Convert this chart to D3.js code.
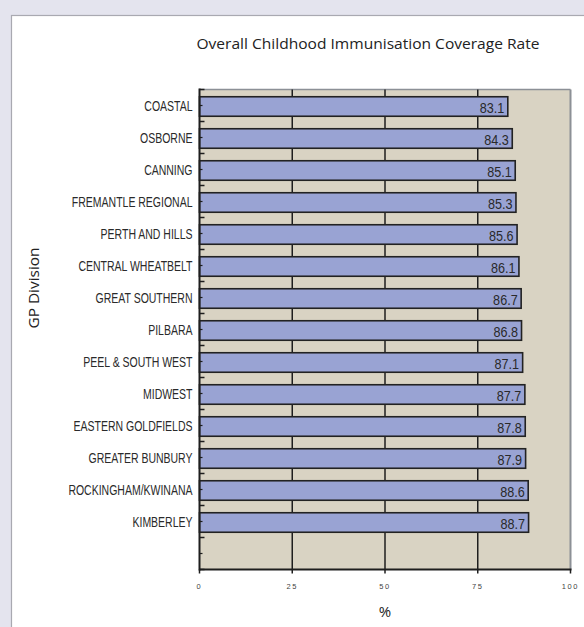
<!DOCTYPE html>
<html><head><meta charset="utf-8">
<script src="https://cdn.jsdelivr.net/npm/d3@7"></script>
<style>
html,body{margin:0;padding:0;background:#e4e4ee;}
svg{display:block;}
</style></head>
<body>
<svg id="chart" width="584" height="627"></svg>
<script>
const categories = ["COASTAL","OSBORNE","CANNING","FREMANTLE REGIONAL","PERTH AND HILLS","CENTRAL WHEATBELT","GREAT SOUTHERN","PILBARA","PEEL & SOUTH WEST","MIDWEST","EASTERN GOLDFIELDS","GREATER BUNBURY","ROCKINGHAM/KWINANA","KIMBERLEY"];
const values = [83.1,84.3,85.1,85.3,85.6,86.1,86.7,86.8,87.1,87.7,87.8,87.9,88.6,88.7];
const xTicks = [0,25,50,75,100];
const title = "Overall Childhood Immunisation Coverage Rate";
const xTitle = "%";
const yTitle = "GP Division";

const svg = d3.select("#chart");
// white panel
svg.append("rect").attr("x",11.5).attr("y",15.5).attr("width",600).attr("height",700)
  .attr("fill","#fff").attr("stroke","#a9a9b1").attr("stroke-width",1.2);

const L=199.5, R=570.5, T=89.5, B=569.5;
const x = d3.scaleLinear().domain([0,100]).range([L,R]);
const bandDomain = categories.concat(["__empty__"]);
const y = d3.scaleBand().domain(bandDomain).range([T,B]).paddingInner(0).paddingOuter(0);
const bw = y.bandwidth();
const narrow = "'Liberation Sans',Arial,sans-serif";
const sx = 0.75;

// plot background
svg.append("rect").attr("x",L).attr("y",T).attr("width",R-L).attr("height",B-T).attr("fill","#d9d3c3");
// right border gray
svg.append("line").attr("x1",R).attr("x2",R).attr("y1",T).attr("y2",B).attr("stroke","#8c9096").attr("stroke-width",2);
svg.append("line").attr("x1",L).attr("x2",R).attr("y1",T).attr("y2",T).attr("stroke","#8c9096").attr("stroke-width",1.5);

// gridlines
svg.append("g").selectAll("line").data(xTicks.filter(d=>d>0&&d<100)).join("line")
  .attr("x1",d=>x(d)).attr("x2",d=>x(d)).attr("y1",T).attr("y2",B)
  .attr("stroke","#1e1e1e").attr("stroke-width",1.5);

// bars
const bh = 19.5;
svg.append("g").selectAll("rect").data(categories).join("rect")
  .attr("x",x(0)).attr("y",(d)=>y(d)+bw/2-bh/2+1)
  .attr("width",(d,i)=>x(values[i])-x(0)).attr("height",bh)
  .attr("fill","#99a3d3").attr("stroke","#222").attr("stroke-width",1.6);

// value labels
svg.append("g").selectAll("text").data(categories).join("text")
  .attr("transform",(d,i)=>`translate(${x(values[i])-3.5},${y(d)+bw/2+7}) scale(0.87,1)`)
  .attr("text-anchor","end")
  .attr("font-family",narrow)
  .attr("font-size",14.5).attr("fill","#2a2a2a")
  .text((d,i)=>values[i].toFixed(1));

// y axis line
svg.append("line").attr("x1",L).attr("x2",L).attr("y1",T-1).attr("y2",B+1).attr("stroke","#1e1e1e").attr("stroke-width",2);
// x axis line
svg.append("line").attr("x1",L).attr("x2",R+1).attr("y1",B).attr("y2",B).attr("stroke","#1e1e1e").attr("stroke-width",2);

// y ticks: boundaries (major) and centers (minor), inward
const yt = svg.append("g");
const bounds = bandDomain.map(d=>y(d)).concat([B]);
yt.selectAll("line.maj").data(bounds).join("line").attr("class","maj")
  .attr("x1",L).attr("x2",L+5).attr("y1",d=>d).attr("y2",d=>d).attr("stroke","#1e1e1e").attr("stroke-width",1.5);
yt.selectAll("line.min").data(bandDomain).join("line").attr("class","min")
  .attr("x1",L).attr("x2",L+3).attr("y1",d=>y(d)+bw/2).attr("y2",d=>y(d)+bw/2).attr("stroke","#1e1e1e").attr("stroke-width",1.2);

// x ticks
svg.append("g").selectAll("line").data(xTicks).join("line")
  .attr("x1",d=>x(d)).attr("x2",d=>x(d)).attr("y1",B).attr("y2",B+4).attr("stroke","#1e1e1e").attr("stroke-width",1.5);
svg.append("g").selectAll("text").data(xTicks).join("text")
  .attr("x",d=>x(d)).attr("y",589)
  .attr("text-anchor","middle").attr("font-family","'Liberation Sans',Arial,sans-serif")
  .attr("font-size",7.5).attr("letter-spacing","1.6").attr("fill","#444")
  .text(d=>d);

// category labels
svg.append("g").selectAll("text").data(categories).join("text")
  .attr("transform",d=>`translate(${L-7},${y(d)+bw/2+5}) scale(${sx},1)`)
  .attr("text-anchor","end")
  .attr("font-family",narrow)
  .attr("font-size",14).attr("fill","#2a2a2a")
  .text(d=>d);

// titles
svg.append("text").attr("x",368).attr("y",49).attr("text-anchor","middle")
  .attr("font-family","'Open Sans',sans-serif").attr("font-size",14).attr("fill","#222")
  .attr("textLength",343).attr("lengthAdjust","spacingAndGlyphs").text(title);
svg.append("text").attr("x",385).attr("y",617).attr("text-anchor","middle")
  .attr("font-family","'Open Sans',sans-serif").attr("font-size",15).attr("fill","#222").text(xTitle);
svg.append("text").attr("transform","translate(39,288) rotate(-90)").attr("text-anchor","middle")
  .attr("font-family","'Open Sans',sans-serif").attr("font-size",15).attr("fill","#222")
  .attr("textLength",81).attr("lengthAdjust","spacingAndGlyphs").text(yTitle);
</script>
</body></html>
